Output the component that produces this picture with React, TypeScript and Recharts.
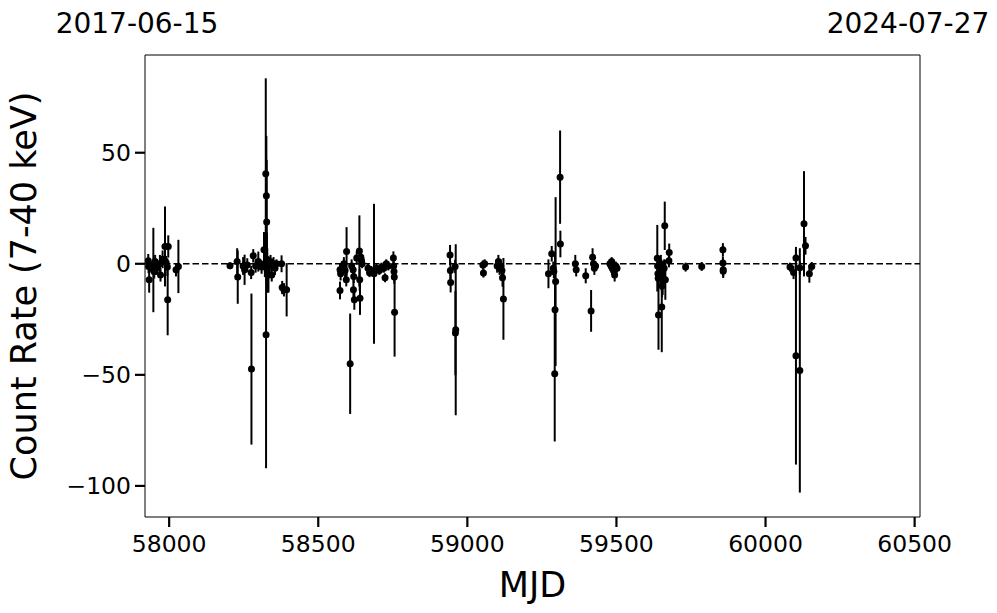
import React from 'react';
import { ScatterChart, Scatter, XAxis, YAxis, ErrorBar, ReferenceLine, ReferenceArea, Label } from 'recharts';

// Observation epochs (MJD), count rate (7-40 keV) and 1-sigma errors, grouped by visibility window
const mjd = [
  57930, 57931, 57933, 57940, 57947, 57950, 57953, 57960, 57969, 57971, 57978, 57986, 57990, 57994, 57995, 57997, 58023, 58031,
  58204, 58228, 58230, 58248, 58253, 58262, 58275, 58276, 58282, 58290, 58299, 58310, 58318, 58321, 58324, 58325, 58326, 58327,
  58328, 58329, 58333, 58336, 58340, 58344, 58350, 58355, 58360, 58377, 58379, 58385, 58394,
  58573, 58573, 58575, 58580, 58586, 58590, 58595, 58594, 58607, 58612, 58617, 58618, 58619, 58621, 58629, 58638, 58639, 58640,
  58643, 58645, 58647, 58667, 58672, 58678, 58687, 58695, 58705, 58712, 58720, 58724, 58728, 58735, 58752, 58753, 58754, 58755, 58756,
  58942, 58943, 58944, 58959, 58960, 58961,
  59052, 59054, 59058, 59100, 59104, 59108, 59112, 59116, 59118, 59121,
  59272, 59283, 59288, 59290, 59293, 59294, 59296, 59311, 59312,
  59362, 59365, 59397, 59415, 59420, 59423, 59426, 59430, 59478, 59482, 59484, 59486, 59490, 59494, 59498, 59502,
  59637, 59638, 59639, 59640, 59641, 59649, 59650, 59651, 59652, 59653, 59655, 59660, 59662, 59664, 59676, 59677,
  59732, 59786, 59857, 59857, 59858, 59858,
  60082, 60094, 60102, 60102, 60115, 60115, 60129, 60134, 60147, 60155,
];
const rate = [
  1.4, -1.2, -7.2, -1, -2.8, -3.6, 1, -2, 0, -5, 2, 7.8, 0.5, -1.5, -16.2, 7.8, -2.7, -1.2,
  -0.9, 1, -6, -1, -2.7, -0.5, -3.9, -47.4, 3.6, -1, 1, -1.5, 6.3, 0, 40.5, -32, 30.6, 18.8,
  2, -3, -5, -1, 1, -5, 0, -2, 0, 0, -10.7, -11.7, -11.7,
  -12, -2.7, -4.5, -2, 0, -3, 5.5, -7.2, -45, -1, -2.7, -11.7, -5.7, -16.2, 2.6, 5.8, -7.2, -15.5,
  3, 1.5, 0, -2, -4, -3, -4.5, -2, -3, -1.5, -2, -6.3, 0, -1, 2.6, -1, -3.5, -6, -21.8,
  4, -3, -8.4, -1.2, -31.2, -29.7,
  -0.5, -4.2, 0, -1, 1, -2, -1, -3, -6.3, -15.8,
  -4.5, 4.5, -2, -3.5, -49.5, -20.7, -8, 39, 8.9,
  0, -2.7, -5.4, -21.2, 3, 0, -2, -1, 0, -1, 1, -2, -3, -5, -1, -2,
  2.5, -1, -4.5, -6.5, -23, 0, -3, -6, -19.4, -10, -8, -2, 17.1, -7.2, 1.4, 5.1,
  -1.5, -1.2, 6.3, 0.3, -2.7, -3.4,
  -1.5, -3.9, 2.6, -41.4, -1.8, -48, 18, 8.1, -4.5, -1.2,
];
const rateErr = [
  3, 3, 5.8, 2, 19, 3, 3, 3, 4, 3, 4, 18, 3, 4, 16, 5, 3, 12,
  1.5, 6, 12, 4, 6.8, 3, 3, 34, 3, 3, 4.5, 3, 8, 6, 43, 60, 27, 28,
  12, 10, 8, 4, 3, 3, 3, 3, 2, 3.8, 3, 3, 12,
  4, 3, 3, 3, 3, 3, 11, 3, 22.6, 3, 3, 5, 3, 4.5, 3, 16, 5, 7.5,
  3, 3, 2, 2, 2, 2, 31.5, 2, 2, 2, 2, 2, 2, 2, 3, 3, 3, 3, 20,
  4.5, 4, 4.5, 3, 19, 38.5,
  2, 2, 2, 3, 3, 3, 3, 3, 4, 18.4,
  6.5, 3.5, 3, 3, 30.5, 25, 38, 21, 6,
  4, 3, 3.4, 9.4, 4, 3, 3, 2, 2, 2, 2, 3, 3, 3, 2, 2,
  15, 4, 5, 5, 15.7, 4, 5, 6, 20.4, 5, 6, 4, 10.9, 9, 3, 4,
  2, 2, 3, 3, 3, 3,
  2, 3, 4, 49, 3, 55, 23.7, 4, 4, 2,
];

const xTicks = [58000, 58500, 59000, 59500, 60000, 60500];
const yTicks = [-100, -50, 0, 50];
const xDomain: [number, number] = [57919, 60518];
const yDomain: [number, number] = [-114, 94];
const edgeDates = ['2017-06-15', '2024-07-27'];

const data = mjd.map((m, i) => ({ mjd: m, rate: rate[i], err: rateErr[i] }));

const FONT = '"DejaVu Sans", sans-serif';

const fmtY = (v: number) => (v < 0 ? '\u2212' + Math.abs(v) : String(v));

const Dot = (props: any) => <circle cx={props.cx} cy={props.cy} r={3.5} fill="#000" />;

const XTick = (p: any) => (
  <text x={p.x} y={p.y} dy="0.75em" textAnchor="middle" fontFamily={FONT} fontSize={23.5} fill="#000">
    {p.payload.value}
  </text>
);

const YTick = (p: any) => (
  <text x={p.x} y={p.y} dy="0.36em" textAnchor="end" fontFamily={FONT} fontSize={23.5} fill="#000">
    {fmtY(p.payload.value)}
  </text>
);

const EdgeDates = (p: any) => {
  const vb = p.viewBox;
  const ty = vb.y - 22;
  return (
    <g fontFamily={FONT} fontSize={28} fill="#000">
      <text x={vb.x - 8} y={ty} textAnchor="middle">{edgeDates[0]}</text>
      <text x={vb.x + vb.width - 12} y={ty} textAnchor="middle">{edgeDates[1]}</text>
    </g>
  );
};

export default function App() {
  return (
    <div style={{ position: 'absolute', left: 0, top: 0, width: 997, height: 613, background: '#fff' }}>
      <ScatterChart width={997} height={613} margin={{ top: 55, right: 77, bottom: 0, left: 0 }}>
        <XAxis
          type="number"
          dataKey="mjd"
          domain={xDomain}
          ticks={xTicks}
          allowDataOverflow
          height={96}
          axisLine={false}
          tickSize={10}
          tickMargin={7}
          tickLine={{ stroke: '#000', strokeWidth: 2.2 }}
          tick={<XTick />}
        >
          <Label
            content={(p: any) => (
              <text x={p.viewBox.x + p.viewBox.width / 2} y={597} textAnchor="middle" fontFamily={FONT} fontSize={35} fill="#000">
                MJD
              </text>
            )}
          />
        </XAxis>
        <YAxis
          type="number"
          dataKey="rate"
          domain={yDomain}
          ticks={yTicks}
          allowDataOverflow
          width={145}
          axisLine={false}
          tickSize={10}
          tickMargin={4}
          tickLine={{ stroke: '#000', strokeWidth: 2.2 }}
          tick={<YTick />}
        >
          <Label
            content={(p: any) => {
              const cy = p.viewBox.y + p.viewBox.height / 2;
              return (
                <text x={36} y={cy} transform={`rotate(-90, 36, ${cy})`} textAnchor="middle" fontFamily={FONT} fontSize={35} fill="#000">
                  Count Rate (7-40 keV)
                </text>
              );
            }}
          />
        </YAxis>
        <ReferenceLine y={0} stroke="#000" strokeWidth={1.5} strokeDasharray="6.5 3" />
        <Scatter data={data} dataKey="rate" fill="#000" shape={<Dot />} isAnimationActive={false}>
          <ErrorBar dataKey="err" direction="y" width={0} stroke="#000" strokeWidth={2} isAnimationActive={false} />
        </Scatter>
        <ReferenceArea
          x1={xDomain[0]}
          x2={xDomain[1]}
          y1={yDomain[0]}
          y2={yDomain[1]}
          fill="none"
          stroke="#000"
          strokeWidth={1}
          ifOverflow="visible"
        >
          <Label content={<EdgeDates />} />
        </ReferenceArea>
      </ScatterChart>
    </div>
  );
}
